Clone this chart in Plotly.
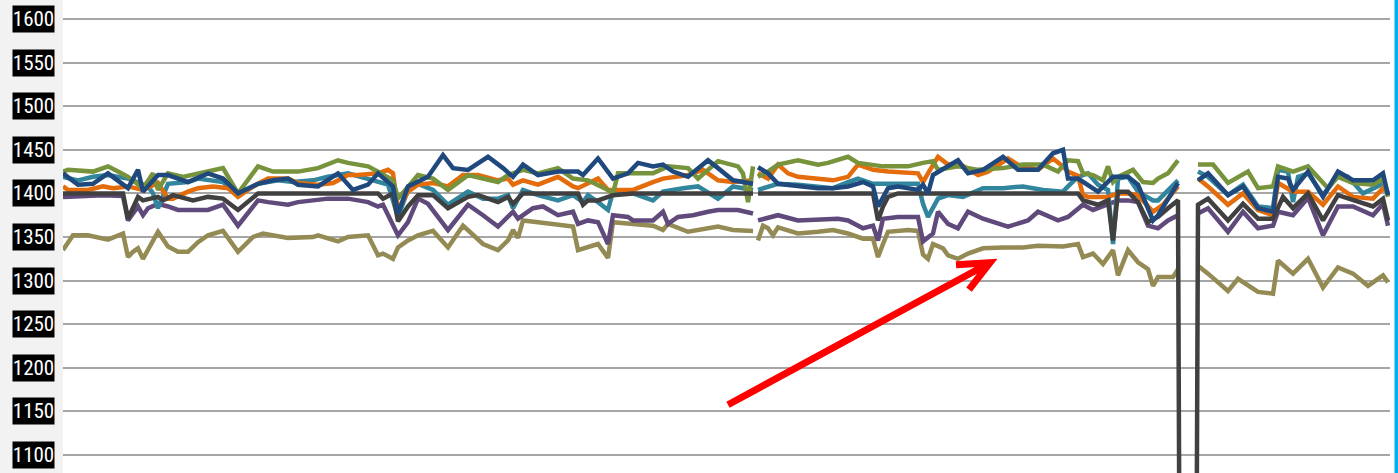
import plotly.graph_objects as go

# y axis ticks, shown as white-on-black labels
y_ticks = [1100, 1150, 1200, 1250, 1300, 1350, 1400, 1450, 1500, 1550, 1600]
y_tick_labels = [str(v) for v in y_ticks]

# readings per series as (day, value); None marks a missing day
khaki = [(0, 1335), (2, 1352), (5, 1352), (7, 1350), (9, 1347), (12, 1354), (13, 1327), (14, 1333),
         (15, 1337), (16, 1325), (19, 1356), (21, 1339), (23, 1333), (25, 1333), (27, 1344), (29, 1352),
         (32, 1357), (35, 1333), (38, 1350), (40, 1354), (45, 1349), (50, 1350), (51, 1352), (55, 1345),
         (57, 1350), (61, 1352), (63, 1329), (64, 1331), (66, 1325), (67, 1338), (69, 1346), (71, 1352),
         (74, 1357), (77, 1338), (80, 1363), (84, 1342), (87, 1335), (89, 1346), (90, 1358), (91, 1349),
         (92, 1369), (95, 1367), (98, 1365), (101, 1363), (102, 1362), (103, 1335), (105, 1339), (107, 1342),
         (109, 1326), (110, 1367), (114, 1365), (118, 1363), (120, 1358), (121, 1365), (125, 1356), (129, 1360),
         (131, 1362), (134, 1358), (138, 1357), (138.5, None), (139, 1346), (140, 1363), (141, 1360), (142, 1352),
         (143, 1361), (145, 1358), (147, 1354), (151, 1356), (154, 1358), (157, 1354), (160, 1348), (162, 1348),
         (163, 1327), (164, 1342), (165, 1356), (169, 1358), (171, 1357), (172, 1330), (173, 1325), (174, 1342),
         (176, 1337), (177, 1329), (179, 1325), (181, 1331), (184, 1337), (188, 1338), (192, 1338), (195, 1340),
         (200, 1339), (203, 1342), (204, 1327), (206, 1331), (208, 1319), (210, 1335), (211, 1306), (213, 1335),
         (215, 1321), (217, 1313), (218, 1294), (219, 1304), (222, 1304), (223, 1313), (225, None), (227, 1317),
         (229, 1308), (233, 1288), (235, 1302), (239, 1287), (242, 1285), (243, 1323), (246, 1308), (249, 1325),
         (252, 1292), (255, 1315), (258, 1308), (261, 1294), (264, 1306), (265, 1298)]

purple = [(0, 1396), (4, 1397), (8, 1398), (12, 1397), (13, 1369), (15, 1385), (16, 1375), (17, 1383),
          (19, 1388), (21, 1385), (23, 1381), (29, 1381), (32, 1387), (35, 1363), (39, 1392), (41, 1390),
          (45, 1387), (47, 1390), (50, 1392), (53, 1394), (57, 1394), (61, 1390), (63, 1385), (64, 1387),
          (67, 1352), (69, 1367), (71, 1394), (73, 1388), (77, 1358), (81, 1387), (84, 1375), (87, 1362),
          (90, 1379), (91, 1371), (94, 1383), (96, 1385), (99, 1375), (102, 1379), (103, 1365), (105, 1369),
          (107, 1367), (109, 1342), (110, 1375), (113, 1373), (114, 1369), (118, 1369), (120, 1379), (121, 1365),
          (123, 1373), (126, 1375), (129, 1379), (131, 1381), (135, 1381), (138, 1377), (138.5, None), (139, 1369),
          (143, 1375), (147, 1369), (151, 1370), (155, 1371), (157, 1369), (160, 1360), (162, 1363), (163, 1346),
          (164, 1371), (167, 1373), (171, 1373), (172, 1345), (174, 1354), (175, 1379), (177, 1365), (179, 1360),
          (181, 1379), (184, 1371), (189, 1362), (193, 1369), (195, 1379), (199, 1369), (201, 1373), (204, 1387),
          (206, 1381), (209, 1388), (211, 1392), (213, 1392), (215, 1390), (217, 1363), (219, 1360), (221, 1369),
          (223, 1375), (225, None), (227, 1377), (229, 1383), (233, 1356), (236, 1379), (239, 1360), (242, 1363),
          (243, 1379), (246, 1375), (249, 1395), (252, 1352), (255, 1385), (258, 1385), (262, 1375), (264, 1388),
          (265, 1363)]

teal = [(0, 1419), (3, 1415), (6, 1419), (9, 1421), (13, 1417), (15, 1413), (17, 1408), (18, 1400),
        (19, 1383), (21, 1411), (25, 1413), (27, 1417), (32, 1413), (35, 1398), (39, 1411), (43, 1415),
        (46, 1413), (50, 1415), (53, 1419), (57, 1423), (61, 1417), (65, 1410), (67, 1373), (69, 1404),
        (71, 1411), (74, 1404), (77, 1387), (81, 1402), (84, 1394), (87, 1394), (89, 1398), (90, 1383),
        (92, 1404), (95, 1398), (99, 1392), (102, 1398), (104, 1390), (105, 1398), (107, 1390), (109, 1381),
        (110, 1402), (114, 1400), (118, 1392), (120, 1402), (124, 1406), (127, 1408), (131, 1394), (134, 1408),
        (138, 1404), (138.5, None), (139, 1404), (143, 1411), (147, 1410), (151, 1408), (154, 1406), (157, 1413),
        (159, 1417), (162, 1411), (165, 1411), (171, 1411), (172, 1388), (173, 1373), (175, 1394), (177, 1398),
        (180, 1396), (184, 1406), (188, 1406), (192, 1408), (196, 1404), (200, 1402), (201, 1408), (203, 1419),
        (205, 1423), (207, 1410), (209, 1404), (210, 1342), (211, 1417), (213, 1419), (215, 1402), (218, 1392),
        (219, 1392), (221, 1404), (223, 1415), (225, None), (227, 1425), (229, 1419), (233, 1398), (236, 1410),
        (239, 1385), (242, 1383), (243, 1427), (245, 1425), (246, 1390), (247, 1419), (249, 1423), (252, 1398),
        (255, 1421), (257, 1419), (260, 1400), (262, 1406), (264, 1411), (265, 1400)]

orange = [(0, 1408), (1, 1404), (5, 1404), (8, 1408), (10, 1406), (13, 1408), (16, 1404), (19, 1412),
          (21, 1394), (22, 1394), (25, 1402), (27, 1406), (30, 1408), (33, 1406), (35, 1396), (38, 1408),
          (41, 1417), (45, 1417), (47, 1412), (51, 1410), (54, 1412), (57, 1421), (59, 1421), (63, 1423),
          (65, 1427), (66, 1423), (67, 1381), (69, 1402), (71, 1410), (74, 1412), (77, 1408), (80, 1421),
          (83, 1421), (87, 1415), (89, 1417), (90, 1410), (92, 1415), (95, 1410), (99, 1419), (102, 1408),
          (103, 1406), (107, 1417), (109, 1404), (114, 1404), (118, 1413), (120, 1417), (125, 1421), (128, 1427),
          (131, 1415), (134, 1413), (138, 1415), (138.5, None), (139, 1423), (141, 1417), (143, 1433), (145, 1423),
          (147, 1419), (151, 1417), (154, 1415), (157, 1419), (159, 1433), (162, 1427), (165, 1425), (171, 1423),
          (172, 1413), (173, 1423), (175, 1442), (177, 1433), (179, 1435), (183, 1421), (185, 1425), (189, 1440),
          (191, 1433), (195, 1427), (198, 1440), (200, 1431), (201, 1425), (203, 1420), (204, 1398), (205, 1396),
          (209, 1396), (211, 1400), (213, 1400), (215, 1398), (218, 1379), (220, 1387), (223, 1408), (225, None),
          (227, 1417), (229, 1408), (233, 1387), (236, 1400), (239, 1381), (242, 1375), (243, 1412), (246, 1402),
          (249, 1402), (252, 1387), (255, 1408), (258, 1396), (262, 1394), (264, 1406), (265, 1400)]

green = [(0, 1425), (1, 1427), (6, 1425), (9, 1431), (11, 1425), (13, 1419), (16, 1406), (18, 1423),
         (19, 1404), (21, 1423), (24, 1419), (27, 1423), (29, 1425), (32, 1429), (35, 1400), (39, 1431),
         (42, 1425), (47, 1425), (51, 1429), (55, 1438), (57, 1435), (61, 1431), (63, 1425), (66, 1415),
         (67, 1394), (69, 1408), (71, 1421), (74, 1417), (77, 1404), (81, 1421), (84, 1417), (87, 1413),
         (89, 1421), (92, 1427), (95, 1423), (99, 1429), (102, 1417), (105, 1415), (109, 1404), (110, 1400),
         (111, 1423), (114, 1423), (118, 1423), (121, 1431), (125, 1429), (127, 1417), (131, 1437), (135, 1431),
         (136, 1423), (137, 1390), (138, 1431), (138.5, None), (139, 1419), (141, 1425), (143, 1433), (147, 1438),
         (151, 1433), (153, 1435), (157, 1442), (159, 1435), (164, 1431), (169, 1431), (172, 1435), (174, 1437),
         (175, 1427), (179, 1431), (183, 1427), (188, 1429), (192, 1433), (196, 1433), (199, 1425), (201, 1438),
         (203, 1437), (204, 1423), (206, 1421), (208, 1415), (209, 1431), (210, 1413), (211, 1419), (214, 1427),
         (216, 1413), (218, 1412), (219, 1417), (221, 1423), (223, 1438), (225, None), (227, 1433), (230, 1433),
         (233, 1412), (237, 1425), (239, 1406), (242, 1408), (243, 1431), (245, 1427), (246, 1425), (249, 1431),
         (253, 1406), (255, 1419), (258, 1412), (262, 1410), (264, 1417), (265, 1396)]

black = [(0, 1400), (12, 1400), (13, 1371), (15, 1396), (16, 1392), (19, 1396), (20, 1392), (22, 1398),
         (26, 1392), (29, 1396), (32, 1394), (35, 1381), (39, 1400), (63, 1400), (64, 1394), (66, 1400),
         (67, 1368), (69, 1385), (71, 1398), (74, 1398), (77, 1383), (81, 1396), (83, 1398), (87, 1390),
         (89, 1396), (90, 1388), (92, 1400), (103, 1400), (104, 1387), (105, 1392), (107, 1392), (110, 1398),
         (114, 1400), (138, 1400), (138.5, None), (139, 1400), (162, 1400), (163, 1369), (164, 1385), (165, 1396),
         (167, 1400), (203, 1400), (204, 1392), (207, 1387), (209, 1392), (210, 1346), (211, 1402), (213, 1402),
         (215, 1390), (217, 1367), (219, 1373), (221, 1383), (223, 1392), (224, 0), (226, 0), (227, 1387),
         (229, 1394), (233, 1369), (236, 1388), (239, 1371), (242, 1371), (244, 1396), (246, 1383), (249, 1400),
         (252, 1369), (255, 1398), (258, 1392), (262, 1385), (264, 1394), (265, 1369)]

blue = [(0, 1423), (3, 1410), (6, 1411), (9, 1423), (13, 1406), (15, 1427), (16, 1402), (19, 1421),
        (21, 1421), (25, 1413), (29, 1423), (32, 1417), (35, 1400), (39, 1411), (42, 1415), (45, 1417),
        (47, 1410), (51, 1408), (55, 1423), (58, 1404), (61, 1410), (63, 1423), (66, 1408), (67, 1377),
        (69, 1408), (71, 1413), (73, 1419), (76, 1444), (78, 1429), (81, 1427), (85, 1442), (88, 1429),
        (90, 1419), (92, 1433), (95, 1421), (99, 1425), (103, 1425), (104, 1421), (107, 1440), (110, 1417),
        (113, 1423), (115, 1435), (118, 1431), (120, 1433), (122, 1425), (125, 1419), (129, 1438), (131, 1429),
        (134, 1415), (138, 1411), (138.5, None), (139, 1430), (141, 1423), (143, 1411), (147, 1408), (151, 1406),
        (154, 1406), (157, 1408), (160, 1413), (162, 1408), (163, 1385), (165, 1406), (167, 1408), (171, 1404),
        (172, 1410), (173, 1400), (174, 1421), (177, 1431), (179, 1438), (181, 1423), (184, 1427), (188, 1442),
        (191, 1427), (195, 1427), (198, 1446), (200, 1450), (201, 1417), (203, 1417), (207, 1402), (210, 1419),
        (213, 1419), (215, 1410), (218, 1369), (219, 1375), (223, 1412), (225, None), (227, 1415), (229, 1423),
        (233, 1398), (236, 1408), (239, 1383), (242, 1379), (243, 1419), (245, 1417), (246, 1404), (249, 1425),
        (252, 1396), (255, 1425), (258, 1415), (262, 1415), (264, 1423), (265, 1398)]

series = [
    ("Series 7", khaki, "#948A54"),
    ("Series 6", purple, "#604A7B"),
    ("Series 3", teal, "#31859C"),
    ("Series 1", orange, "#E46C0A"),
    ("Series 2", green, "#77933C"),
    ("Series 5", black, "#404040"),
    ("Series 4", blue, "#1F497D"),
]

W, H = 1398, 473
ML, MR = 63, 8
PW = W - ML - MR
# 1600 sits 19px from the top, 1100 at 455px; 436px per 500 units
PX_PER_UNIT = 436 / 500
Y_TOP = 1600 + 19 / PX_PER_UNIT
Y_BOT = 1100 - (H - 455) / PX_PER_UNIT

fig = go.Figure()
for name, pts, col in series:
    fig.add_trace(go.Scatter(
        x=[p[0] for p in pts], y=[p[1] for p in pts],
        mode="lines", name=name, connectgaps=False,
        line=dict(color=col, width=4.5), showlegend=False,
    ))

# label boxes on the left
for v, lab in zip(y_ticks, y_tick_labels):
    fig.add_annotation(
        x=(33.5 - ML) / PW, xref="paper", y=v, yref="y",
        text=lab, showarrow=False, bgcolor="black", borderpad=0,
        width=41, height=26, xanchor="center", yanchor="middle",
        font=dict(color="white", size=21,
                  family="Liberation Sans Narrow, Arial Narrow, Roboto Condensed, sans-serif"),
    )

edge_x = (1396.5 - ML) / PW
fig.update_layout(
    width=W, height=H,
    margin=dict(l=ML, r=MR, t=0, b=0),
    paper_bgcolor="white", plot_bgcolor="white",
    xaxis=dict(range=[0, PW / 5], visible=False, showgrid=False, zeroline=False),
    yaxis=dict(range=[Y_BOT, Y_TOP], tickvals=y_ticks, showticklabels=False,
               showgrid=True, gridcolor="#a6a6a6", gridwidth=1.5, zeroline=False,
               showline=False, ticks=""),
    shapes=[
        # grey strip behind the labels
        dict(type="rect", xref="paper", yref="paper", x0=-ML / PW, x1=0, y0=0, y1=1,
             fillcolor="#f2f2f2", line=dict(width=0), layer="below"),
        # blue edge on the right
        dict(type="line", xref="paper", yref="paper", x0=edge_x, x1=edge_x,
             y0=0, y1=1, line=dict(color="#00B0F0", width=4)),
        # red arrow pointing at the khaki series
        dict(type="path", xref="x", yref="y", xsizemode="pixel", ysizemode="pixel",
             xanchor=185.4, yanchor=1320.5,
             path="M-262,-142 L0,0 M-34,-2 L0,0 L-21,-27",
             line=dict(color="#FF0000", width=7)),
    ],
    hovermode=False,
)

# page has a default 8px body margin; drop it so the chart sits at the window corner
fig.write_html("out.html", config={"displayModeBar": False},
               post_script="document.body.style.margin='0';")
